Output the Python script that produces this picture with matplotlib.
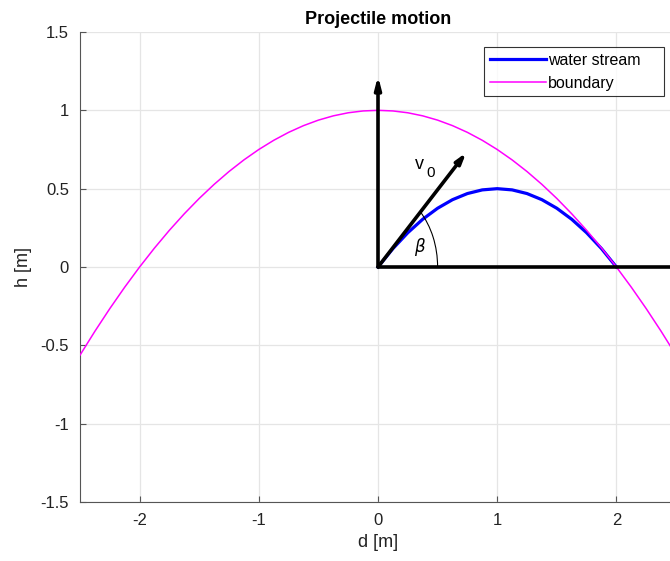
import numpy as np
import matplotlib
matplotlib.use("Agg")
import matplotlib.pyplot as plt
from matplotlib.patches import Arc
from matplotlib.ticker import FormatStrFormatter

plt.rcParams['font.family'] = ['Liberation Sans', 'DejaVu Sans']
plt.rcParams['axes.unicode_minus'] = False

# boundary curve
boundary_d = np.linspace(-2.5, 2.5, 41)
boundary_h = [-0.5625, -0.4102, -0.2656, -0.1289, 0.0, 0.1211, 0.2344, 0.3398,
              0.4375, 0.5273, 0.6094, 0.6836, 0.75, 0.8086, 0.8594, 0.9023,
              0.9375, 0.9648, 0.9844, 0.9961, 1.0, 0.9961, 0.9844, 0.9648,
              0.9375, 0.9023, 0.8594, 0.8086, 0.75, 0.6836, 0.6094, 0.5273,
              0.4375, 0.3398, 0.2344, 0.1211, 0.0, -0.1289, -0.2656, -0.4102,
              -0.5625]

# water stream
stream_d = np.linspace(0, 2, 17)
stream_h = [0.0, 0.1172, 0.2188, 0.3047, 0.375, 0.4297, 0.4688, 0.4922, 0.5,
            0.4922, 0.4688, 0.4297, 0.375, 0.3047, 0.2188, 0.1172, 0.0]

v0_tip = (0.74, 0.73)
vert_tip = (0.0, 1.22)
ground_end = 2.5
beta_radius = 0.5

W, H = 670, 561
fig = plt.figure(figsize=(W / 100, H / 100), dpi=100)
ax = fig.add_axes([80 / W, 1 - 502 / H, 596 / W, 470 / H])

ax.plot(stream_d, stream_h, color='#0000ff', lw=2.3, label='water stream    ', zorder=3)
ax.plot(boundary_d, boundary_h, color='#ff00ff', lw=1.1, label='boundary', zorder=3)

# ground line and arrows
ax.plot([0, ground_end], [0, 0], color='black', lw=2.6, zorder=4, solid_capstyle='butt')
ax.annotate('', xy=vert_tip, xytext=(0, 0),
            arrowprops=dict(arrowstyle='-|>,head_length=0.7,head_width=0.18',
                            color='black', lw=2.6, shrinkA=0, shrinkB=0), zorder=5)
ax.annotate('', xy=v0_tip, xytext=(0, 0),
            arrowprops=dict(arrowstyle='-|>,head_length=0.6,head_width=0.18',
                            color='black', lw=2.6, shrinkA=0, shrinkB=0), zorder=5)

ax.add_patch(Arc((0, 0), 2 * beta_radius, 2 * beta_radius, theta1=0, theta2=45,
                 color='black', lw=0.8, zorder=5))
ax.text(0.355, 0.125, r'$\beta$', fontsize=12, ha='center', va='center')
ax.text(0.35, 0.655, 'v', fontsize=13, ha='center', va='center')
ax.text(0.44, 0.60, '0', fontsize=11, ha='center', va='center')

ax.set_xlim(-2.5, 2.5)
ax.set_ylim(-1.5, 1.5)
ax.set_xticks([-2, -1, 0, 1, 2])
ax.set_yticks([-1.5, -1, -0.5, 0, 0.5, 1, 1.5])
ax.yaxis.set_major_formatter(FormatStrFormatter('%g'))
ax.grid(True, color='#e5e5e5', lw=0.9)
ax.set_axisbelow(True)
for s in ['top', 'right']:
    ax.spines[s].set_visible(False)
for s in ['left', 'bottom']:
    ax.spines[s].set_color('#555555')
    ax.spines[s].set_linewidth(0.8)
ax.tick_params(direction='in', length=4, width=0.8, colors='#555555',
               labelcolor='#222222', labelsize=12, pad=8)

ax.set_xlabel('d [m]', fontsize=13, color='#222222', labelpad=4)
ax.set_ylabel('h [m]', fontsize=13, color='#222222', labelpad=6)
ax.set_title('Projectile motion', fontsize=13, fontweight='bold', pad=6)

leg = ax.legend(loc='upper right', bbox_to_anchor=(664 / W, 1 - 47 / H),
                bbox_transform=fig.transFigure, borderaxespad=0, fontsize=11.5,
                frameon=True, fancybox=False, handlelength=3.5, handletextpad=0.15,
                labelspacing=0.5, borderpad=0.35)
leg.get_frame().set_edgecolor('black')
leg.get_frame().set_linewidth(0.8)

fig.savefig('out.png', dpi=100)
